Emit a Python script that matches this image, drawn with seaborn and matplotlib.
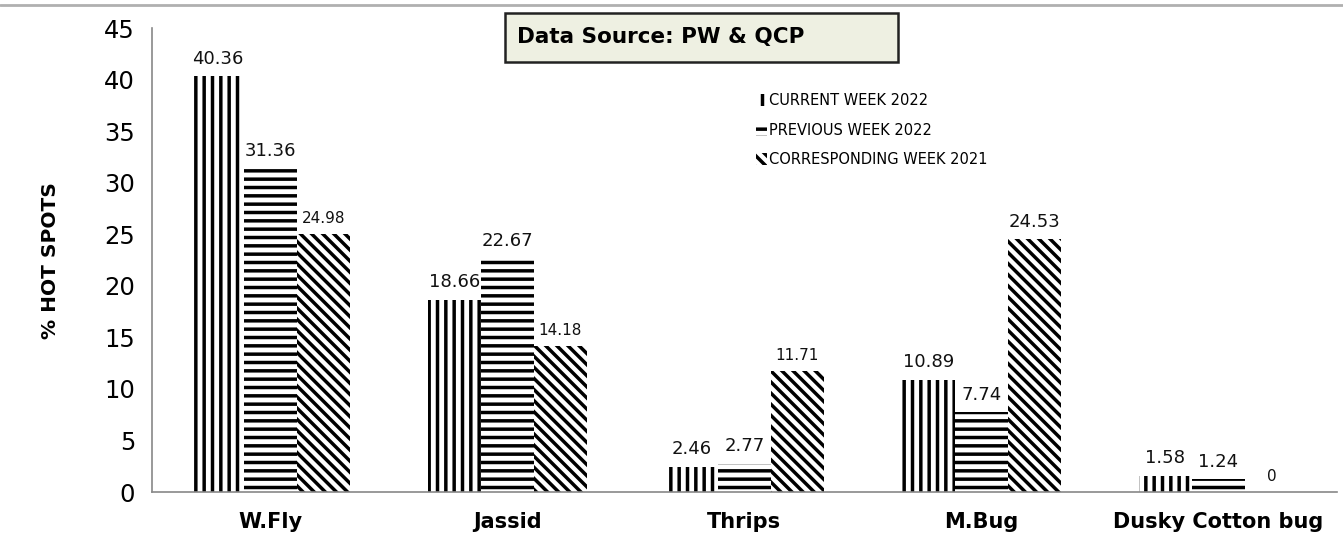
import numpy as np
import pandas as pd
import seaborn as sns
import matplotlib.pyplot as plt
from matplotlib.patches import Rectangle, Patch
from matplotlib.lines import Line2D

pests = ["W.Fly", "Jassid", "Thrips", "M.Bug", "Dusky Cotton bug"]
series = ["CURRENT WEEK 2022", "PREVIOUS WEEK 2022", "CORRESPONDING WEEK 2021"]
current_2022 = [40.36, 18.66, 2.46, 10.89, 1.58]
previous_2022 = [31.36, 22.67, 2.77, 7.74, 1.24]
corresponding_2021 = [24.98, 14.18, 11.71, 24.53, 0]
y_ticks = [0, 5, 10, 15, 20, 25, 30, 35, 40, 45]

df = pd.DataFrame({
    "Pest": pests * 3,
    "Series": [series[0]] * 5 + [series[1]] * 5 + [series[2]] * 5,
    "Value": current_2022 + previous_2022 + corresponding_2021,
})

sns.set_style("white")
plt.rcParams["font.family"] = ["DejaVu Sans"]
plt.rcParams["text.color"] = "black"
plt.rcParams["xtick.color"] = "black"
plt.rcParams["ytick.color"] = "black"
plt.rcParams["axes.labelcolor"] = "black"
plt.rcParams["hatch.linewidth"] = 2.5

fig = plt.figure(figsize=(13.43, 5.39), dpi=100)
ax = fig.add_axes([0.113, 0.087, 0.8825, 0.861])

sns.barplot(data=df, x="Pest", y="Value", hue="Series", order=pests,
            hue_order=series, width=0.67, ax=ax, legend=False,
            palette=["white"] * 3, saturation=1)

hatches = ["||", "--", "\\\\\\"]
for cont, h in zip(ax.containers, hatches):
    for bar in cont:
        bar.set_hatch(h)
        bar.set_facecolor("white")
        bar.set_edgecolor("black")
        bar.set_linewidth(0)

# value labels
label_sizes = [13, 13, 11]
for i, cont in enumerate(ax.containers):
    texts = ax.bar_label(cont, labels=[f"{v:g}" for v in df[df.Series == series[i]].Value],
                         padding=6, fontsize=label_sizes[i], color="#111111")
texts[3].set_fontsize(13)

ax.set_ylim(0, 45)
ax.set_yticks(y_ticks)
ax.set_xlim(-0.5, 4.5)
ax.tick_params(axis="y", labelsize=17.5, length=8, color="#888888", width=1.2, pad=4)
ax.set_xticks(range(5))
ax.set_xticklabels(pests, fontsize=15, fontweight="bold")
ax.tick_params(axis="x", length=0, pad=14)
ax.set_xticks(np.arange(-0.5, 5, 1), minor=True)
ax.tick_params(axis="x", which="minor", length=8, color="#888888", width=1.2)
ax.set_xlabel("")
ax.set_ylabel("% HOT SPOTS", fontsize=14.5, fontweight="bold", labelpad=32)

for s in ["top", "right"]:
    ax.spines[s].set_visible(False)
for s in ["left", "bottom"]:
    ax.spines[s].set_color("#888888")
    ax.spines[s].set_linewidth(1.2)

handles = [Patch(facecolor="white", edgecolor="black", linewidth=0, hatch=h) for h in hatches]
ax.legend(handles, series, loc="upper left", bbox_to_anchor=(0.505, 0.872),
          frameon=False, fontsize=10.5, handlelength=0.75, handleheight=0.9,
          handletextpad=0.15, labelspacing=1.0, borderaxespad=0)

# data source box
fig.patches.append(Rectangle((505 / 1343, 1 - 62 / 539), 393 / 1343, 49 / 539,
                             transform=fig.transFigure, facecolor="#eef0e2",
                             edgecolor="#222222", linewidth=1.8, zorder=5))
fig.text(517 / 1343, 1 - 37.5 / 539, "Data Source: PW & QCP", fontsize=15.5,
         fontweight="bold", va="center", ha="left", zorder=6)

# top border line
fig.add_artist(Line2D([0, 1], [1 - 5 / 539, 1 - 5 / 539], transform=fig.transFigure,
                      color="#b0b0b0", linewidth=2))

fig.savefig("out.png", dpi=100)
